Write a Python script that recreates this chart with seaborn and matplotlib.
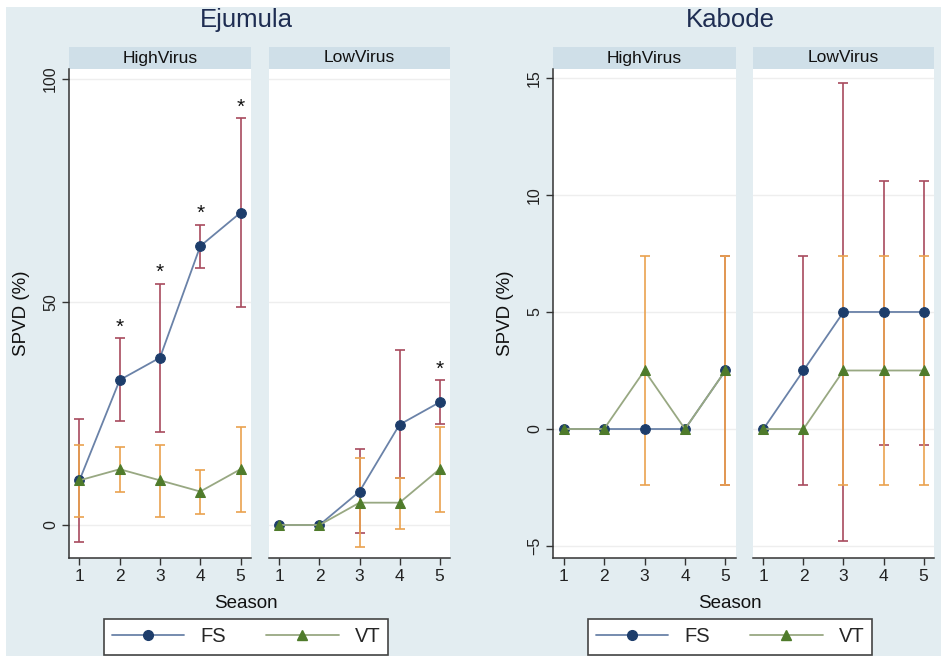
import numpy as np
import pandas as pd
import seaborn as sns
import matplotlib
matplotlib.use("Agg")
import matplotlib.pyplot as plt
from matplotlib.patches import Rectangle
from matplotlib.lines import Line2D

sns.set_style("white")
plt.rcParams["font.family"] = ["Liberation Sans", "DejaVu Sans"]

# ---------------- data ----------------
seasons = [1, 2, 3, 4, 5]
nan = np.nan

ej_high_fs = [10, 32.5, 37.5, 62.5, 70]
ej_high_fs_lo = [-3.8, 23.2, 20.8, 57.6, 48.8]
ej_high_fs_hi = [23.8, 41.9, 54.1, 67.3, 91.2]
ej_high_vt = [10, 12.5, 10, 7.5, 12.5]
ej_high_vt_lo = [1.9, 7.5, 1.9, 2.5, 3.0]
ej_high_vt_hi = [18.0, 17.4, 18.0, 12.3, 21.9]
ej_high_sig = [2, 3, 4, 5]

ej_low_fs = [0, 0, 7.5, 22.5, 27.5]
ej_low_fs_lo = [nan, nan, -1.9, 10.6, 22.6]
ej_low_fs_hi = [nan, nan, 17.0, 39.2, 32.4]
ej_low_vt = [0, 0, 5, 5, 12.5]
ej_low_vt_lo = [nan, nan, -4.9, -0.8, 3.0]
ej_low_vt_hi = [nan, nan, 15.0, 10.6, 21.9]
ej_low_sig = [5]

kb_high_fs = [0, 0, 0, 0, 2.5]
kb_high_fs_lo = [nan, nan, nan, nan, -2.4]
kb_high_fs_hi = [nan, nan, nan, nan, 7.4]
kb_high_vt = [0, 0, 2.5, 0, 2.5]
kb_high_vt_lo = [nan, nan, -2.4, nan, -2.4]
kb_high_vt_hi = [nan, nan, 7.4, nan, 7.4]

kb_low_fs = [0, 2.5, 5, 5, 5]
kb_low_fs_lo = [nan, -2.4, -4.8, -0.7, -0.7]
kb_low_fs_hi = [nan, 7.4, 14.8, 10.6, 10.6]
kb_low_vt = [0, 0, 2.5, 2.5, 2.5]
kb_low_vt_lo = [nan, nan, -2.4, -2.4, -2.4]
kb_low_vt_hi = [nan, nan, 7.4, 7.4, 7.4]

sites = ["Ejumula", "Kabode"]
groups = ["HighVirus", "LowVirus"]
series_names = ["FS", "VT"]
ej_yticks = [0, 50, 100]
kb_yticks = [-5, 0, 5, 10, 15]

# ---------------- style ----------------
W, H = 941, 656
BG = "#e3edf1"
STRIP = "#cfdfe8"
FS_MK = "#1d3d6b"
FS_LN = "#6a82a8"
FS_CI = "#a84a5e"
VT_MK = "#4f7b2b"
VT_LN = "#98a882"
VT_CI = "#eaa24f"
AX_COL = "#333333"

fig = plt.figure(figsize=(W / 100, H / 100), dpi=100)
fig.patch.set_facecolor("white")
fig.add_artist(Rectangle((6 / W, 0), 1 - 6 / W, 1 - 7 / H, transform=fig.transFigure,
                         facecolor=BG, edgecolor="none", zorder=-10))


def px_axes(x0, x1, y0, y1):
    return fig.add_axes([x0 / W, 1 - y1 / H, (x1 - x0) / W, (y1 - y0) / H])


panels = {
    ("Ejumula", "HighVirus"): (69, 251, ej_high_fs, ej_high_fs_lo, ej_high_fs_hi,
                                ej_high_vt, ej_high_vt_lo, ej_high_vt_hi, ej_high_sig),
    ("Ejumula", "LowVirus"): (269, 450, ej_low_fs, ej_low_fs_lo, ej_low_fs_hi,
                               ej_low_vt, ej_low_vt_lo, ej_low_vt_hi, ej_low_sig),
    ("Kabode", "HighVirus"): (553, 736, kb_high_fs, kb_high_fs_lo, kb_high_fs_hi,
                               kb_high_vt, kb_high_vt_lo, kb_high_vt_hi, []),
    ("Kabode", "LowVirus"): (753, 934, kb_low_fs, kb_low_fs_lo, kb_low_fs_hi,
                              kb_low_vt, kb_low_vt_lo, kb_low_vt_hi, []),
}
ylims = {"Ejumula": (-7.4, 102.2), "Kabode": (-5.51, 15.38)}
yticks = {"Ejumula": ej_yticks, "Kabode": kb_yticks}

strip_h = 22 / 489


def draw_ci(ax, mid, lo, hi, color, z):
    s = np.array(seasons, float)
    m = np.array(mid, float)
    l = np.array(lo, float)
    h = np.array(hi, float)
    ok = ~np.isnan(l)
    ax.errorbar(s[ok], m[ok], yerr=[m[ok] - l[ok], h[ok] - m[ok]], fmt="none",
                ecolor=color, elinewidth=1.2, capsize=3.5, capthick=1.2, zorder=z)


for (site, grp), (x0, x1, fs, fslo, fshi, vt, vtlo, vthi, sig) in panels.items():
    ax = px_axes(x0, x1, 69, 558)
    ax.set_facecolor("white")
    ax.set_xlim(0.74, 5.26)
    ax.set_ylim(*ylims[site])
    ax.set_yticks(yticks[site])
    ax.set_xticks(seasons)
    for yv in yticks[site]:
        ax.axhline(yv, color="#eeeeee", lw=1.0, zorder=0)

    draw_ci(ax, fs, fslo, fshi, FS_CI, 2)
    draw_ci(ax, vt, vtlo, vthi, VT_CI, 2.5)

    df = pd.DataFrame({"Season": seasons * 2, "SPVD": list(fs) + list(vt),
                       "Variety": ["FS"] * 5 + ["VT"] * 5})
    sns.lineplot(data=df[df.Variety == "FS"], x="Season", y="SPVD", ax=ax, color=FS_LN,
                 lw=1.3, marker="o", markersize=7, markerfacecolor=FS_MK,
                 markeredgecolor=FS_MK, zorder=4, legend=False)
    sns.lineplot(data=df[df.Variety == "VT"], x="Season", y="SPVD", ax=ax, color=VT_LN,
                 lw=1.3, marker="^", markersize=7.5, markerfacecolor=VT_MK,
                 markeredgecolor=VT_MK, zorder=5, legend=False)

    for s in sig:
        i = seasons.index(s)
        ax.annotate("*", (s, fshi[i]), xytext=(0, 1), textcoords="offset points",
                    ha="center", va="bottom", fontsize=15, color="#111111")

    ax.set_xlabel("")
    ax.set_ylabel("")
    for sp in ["top", "right"]:
        ax.spines[sp].set_visible(False)
    ax.spines["bottom"].set_color(AX_COL)
    ax.spines["bottom"].set_linewidth(1.1)
    ax.tick_params(axis="x", direction="out", length=5, width=1, color=AX_COL,
                   labelsize=12.5, labelcolor="#222222", pad=3, bottom=True)
    if grp == "HighVirus":
        ax.spines["left"].set_color(AX_COL)
        ax.spines["left"].set_linewidth(1.1)
        ax.tick_params(axis="y", direction="out", length=5, width=1, color=AX_COL,
                       labelsize=11.5, labelcolor="#222222", pad=3, left=True)
        for t in ax.get_yticklabels():
            t.set_rotation(90)
            t.set_va("center")
    else:
        ax.spines["left"].set_visible(False)
        ax.tick_params(axis="y", left=False, labelleft=False)

    ax.add_patch(Rectangle((0, 1), 1, strip_h, transform=ax.transAxes, facecolor=STRIP,
                           edgecolor="none", clip_on=False))
    ax.text(0.5, 1 + strip_h / 2, grp, transform=ax.transAxes, ha="center", va="center",
            fontsize=12.5, color="#111111")

# titles, axis labels, legends
for site, xc, ylab_x, (lx0, lx1) in [("Ejumula", 246, 22, (110, 382)),
                                     ("Kabode", 730, 506, (593, 867))]:
    fig.text(xc / W, 1 - 20 / H, site, ha="center", va="center", fontsize=18.5,
             color="#1e2d52")
    fig.text(xc / W, 1 - 603 / H, "Season", ha="center", va="center", fontsize=13.5,
             color="#111111")
    fig.text(ylab_x / W, 1 - 313 / H, "SPVD (%)", ha="center", va="center", rotation=90,
             fontsize=13.5, color="#111111")
    handles = [Line2D([], [], color=FS_LN, lw=1.3, marker="o", markersize=7,
                      markerfacecolor=FS_MK, markeredgecolor=FS_MK),
               Line2D([], [], color=VT_LN, lw=1.3, marker="^", markersize=7.5,
                      markerfacecolor=VT_MK, markeredgecolor=VT_MK)]
    leg = fig.legend(handles, series_names, loc="center",
                     bbox_to_anchor=(((lx0 + lx1) / 2) / W, 1 - 637 / H), ncol=2,
                     frameon=True, fancybox=False, fontsize=14.5, handlelength=3.6,
                     columnspacing=2.0, handletextpad=0.8, borderpad=0.4,
                     edgecolor="#444444", facecolor="white", framealpha=1)
    leg.get_frame().set_linewidth(1.2)

fig.savefig("out.png", dpi=100)
